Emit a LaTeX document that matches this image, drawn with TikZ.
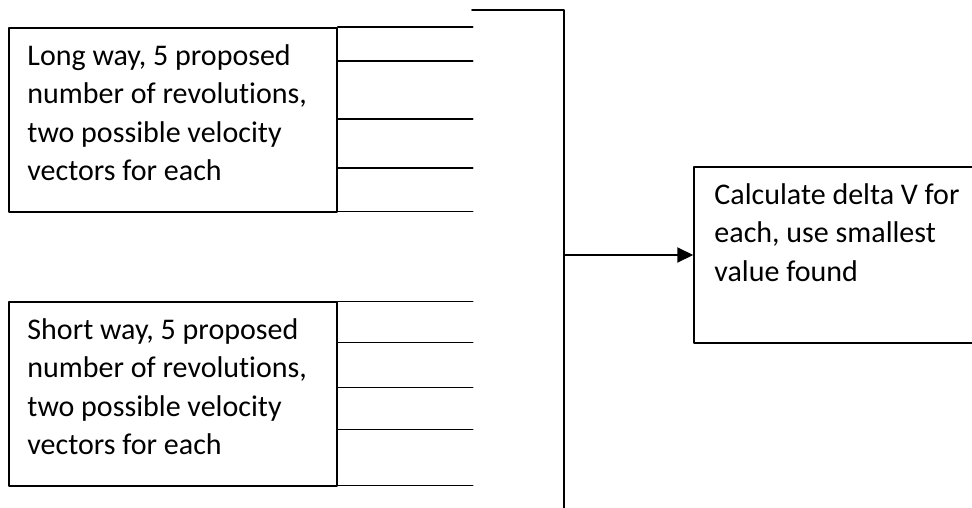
\documentclass[tikz,border=0pt]{standalone}
\usepackage{fontspec}
\setmainfont{Carlito}[Ligatures={NoCommon}]
\usepackage{tikz}
\usetikzlibrary{arrows.meta,positioning}

\begin{document}
\begin{tikzpicture}[line cap=round,line join=round,>={Triangle[length=16pt,width=15pt]},x=1.0pt,y=-1.0pt,
  panel/.style={draw,line width=1.5pt,minimum width=328pt,minimum height=184pt,inner sep=0pt},
  calcpanel/.style={draw,line width=1.5pt,minimum width=300pt,minimum height=176pt,inner sep=0pt},
  paneltext/.style={anchor=north west,inner sep=0pt,align=left,font=\fontsize{30}{38.5}\selectfont},
  slot/.style={line width=1.5pt},
  bus/.style={line width=2pt}]
\clip (0,0) rectangle (972,508);
\node[panel] (longbox) at (173,120) {};
\node[panel] (shortbox) at (173,394) {};
\node[calcpanel] (calcbox) at (844,255) {};
\node[paneltext] (longtxt) at ([xshift=19pt,yshift=-17pt]longbox.north west) {Long way, 5 proposed\\number of revolutions,\\two possible velocity\\vectors for each};
\node[paneltext] (shorttxt) at ([xshift=19pt,yshift=-17pt]shortbox.north west) {Short way, 5 proposed\\number of revolutions,\\two possible velocity\\vectors for each};
\node[paneltext] (calctxt) at ([xshift=21pt,yshift=-17pt]calcbox.north west) {Calculate delta V for\\each, use smallest\\value found};
% slots beside each panel
\foreach \dy in {0,34,92,141,184}
  \draw[slot] ([yshift=-\dy pt]longbox.north east) -- ++(135,0);
\foreach \dy in {0,41,86,128,184}
  \draw[slot] ([yshift=-\dy pt]shortbox.north east) -- ++(135,0);
\coordinate (bustop) at (564,10);
\coordinate (busbot) at (564,508);
\draw[bus] (472,10) -- (bustop) -- (busbot);
\draw[bus,->] (calcbox.west -| bustop) -- (calcbox.west);
\end{tikzpicture}
\end{document}
